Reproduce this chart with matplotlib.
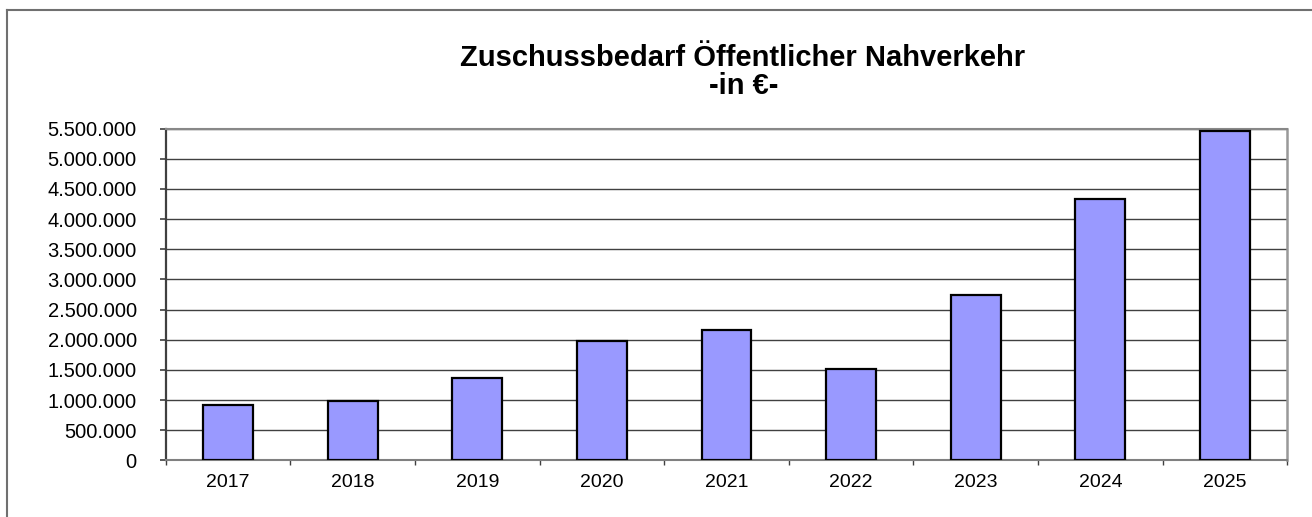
import matplotlib
matplotlib.use("Agg")
import matplotlib.pyplot as plt
from matplotlib.lines import Line2D
from matplotlib.ticker import FuncFormatter, MultipleLocator, FixedLocator

plt.rcParams["font.family"] = ["Liberation Sans", "DejaVu Sans"]

years = ["2017", "2018", "2019", "2020", "2021", "2022", "2023", "2024", "2025"]
zuschuss = [913000, 985000, 1372000, 1987000, 2160000, 1520000, 2740000, 4340000, 5470000]

W, H = 1312, 517
fig = plt.figure(figsize=(W / 100, H / 100), dpi=100)
ax = fig.add_axes([165.7 / W, 1 - 460.3 / H, (1287.3 - 165.7) / W, (460.3 - 128.7) / H])

x = list(range(len(years)))
ax.bar(x, zuschuss, width=0.4, color="#9999FF", edgecolor="black", linewidth=1.6, zorder=3)

ax.set_xlim(-0.5, len(years) - 0.5)
ax.set_ylim(0, 5500000)
ax.yaxis.set_major_locator(MultipleLocator(500000))
ax.yaxis.set_major_formatter(FuncFormatter(lambda v, p: f"{int(v):,}".replace(",", ".")))
ax.grid(axis="y", color="#404040", linewidth=1.0, zorder=0)

ax.set_xticks(x)
ax.set_xticklabels(years)
ax.xaxis.set_minor_locator(FixedLocator([i + 0.5 for i in range(-1, len(years))]))
ax.tick_params(axis="x", which="major", length=0, pad=10, labelsize=14)
ax.tick_params(axis="x", which="minor", length=3.6, width=1, color="#404040", direction="out")
ax.tick_params(axis="y", length=4.3, width=1.2, color="#404040", pad=16.6, labelsize=14.5)

ax.spines["left"].set_color("#404040")
ax.spines["left"].set_linewidth(1.6)
ax.spines["right"].set_color("#999999")
ax.spines["right"].set_linewidth(1.8)
ax.spines["top"].set_color("#888888")
ax.spines["top"].set_linewidth(1.5)
ax.spines["bottom"].set_color("#808080")
ax.spines["bottom"].set_linewidth(1.5)

fig.text(743 / W, 1 - 65.7 / H, "Zuschussbedarf Öffentlicher Nahverkehr",
         ha="center", va="baseline", fontsize=21, fontweight="bold")
fig.text(743.5 / W, 1 - 94.5 / H, "-in €-",
         ha="center", va="baseline", fontsize=21, fontweight="bold")

# outer chart frame (only left and top visible)
fig.add_artist(Line2D([7 / W, 7 / W], [0, 1 - 10 / H], transform=fig.transFigure,
                      color="#707070", linewidth=1.5))
fig.add_artist(Line2D([7 / W, 1], [1 - 10 / H, 1 - 10 / H], transform=fig.transFigure,
                      color="#707070", linewidth=1.5))

fig.savefig("out.png", dpi=100)
